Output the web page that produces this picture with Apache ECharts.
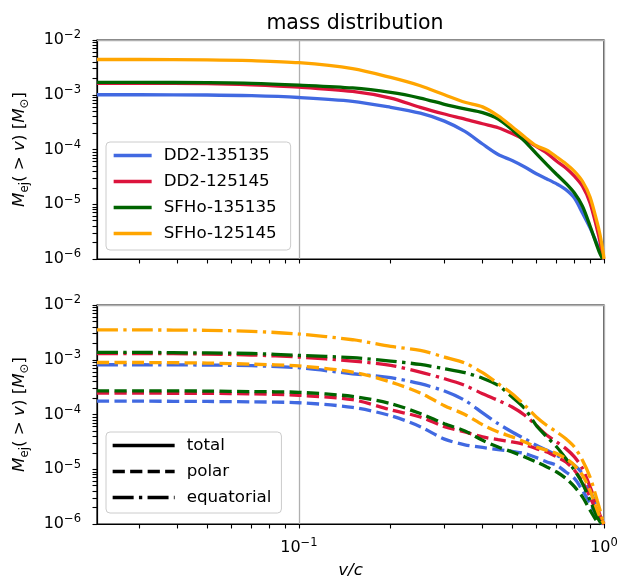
<!DOCTYPE html>
<html>
<head>
<meta charset="utf-8">
<script src="https://cdn.jsdelivr.net/npm/echarts@6.0.0/dist/echarts.min.js"></script>
<style>
  html, body { margin: 0; padding: 0; background: #fff; }
  #massChart { width: 620px; height: 583px; }
</style>
</head>
<body>
<div id="massChart"></div>
<script>
// v/c sample points
var vel = [0.0218, 0.03, 0.05, 0.07, 0.1, 0.15, 0.2, 0.25, 0.3, 0.35, 0.4, 0.45, 0.5,
           0.55, 0.6, 0.65, 0.7, 0.75, 0.8, 0.85, 0.9, 0.95, 0.97, 0.99, 1.0];

var models = ['DD2-135135', 'DD2-125145', 'SFHo-135135', 'SFHo-125145'];
var modelColors = ['#4169e1', '#dc143c', '#006400', '#ffa500'];
var styleNames = ['total', 'polar', 'equatorial'];

// total M_ej(>v) [Msun]
var totDD2_135135 = [1.0e-3, 1.0e-3, 9.9e-4, 9.6e-4, 8.9e-4, 7.6e-4, 5.9e-4, 4.6e-4, 3.3e-4, 2.14e-4, 1.26e-4, 8.1e-5, 6.3e-5,
                     4.8e-5, 3.6e-5, 2.9e-5, 2.35e-5, 1.85e-5, 1.3e-5, 6.9e-6, 3.7e-6, 1.85e-6, 1.4e-6, 1.05e-6, 1.0e-6];
var totDD2_125145 = [1.62e-3, 1.62e-3, 1.6e-3, 1.52e-3, 1.38e-3, 1.15e-3, 8.7e-4, 5.9e-4, 4.45e-4, 3.6e-4, 2.95e-4, 2.5e-4, 1.95e-4,
                     1.5e-4, 1.14e-4, 8.6e-5, 6.1e-5, 4.6e-5, 3.25e-5, 2.13e-5, 1.06e-5, 3.45e-6, 2.1e-6, 1.1e-6, 1.0e-6];
var totSFHo_135135 = [1.68e-3, 1.68e-3, 1.66e-3, 1.62e-3, 1.5e-3, 1.33e-3, 1.1e-3, 8.7e-4, 6.7e-4, 5.5e-4, 4.7e-4, 3.6e-4, 2.3e-4,
                      1.41e-4, 8.4e-5, 5.3e-5, 3.5e-5, 2.4e-5, 1.6e-5, 9.2e-6, 4.0e-6, 1.7e-6, 1.25e-6, 1.0e-6, null];
var totSFHo_125145 = [4.4e-3, 4.4e-3, 4.35e-3, 4.2e-3, 3.85e-3, 3.0e-3, 2.07e-3, 1.46e-3, 1.0e-3, 7.3e-4, 6.0e-4, 4.1e-4, 2.6e-4,
                      1.69e-4, 1.17e-4, 9.7e-5, 7.3e-5, 5.5e-5, 4.0e-5, 2.63e-5, 1.36e-5, 4.6e-6, 2.8e-6, 1.5e-6, 1.0e-6];

// polar M_ej(>v)
var polDD2_135135 = [1.75e-4, 1.75e-4, 1.73e-4, 1.7e-4, 1.64e-4, 1.35e-4, 9.5e-5, 6.0e-5, 3.55e-5, 2.8e-5, 2.5e-5, 2.29e-5, 2.13e-5,
                     1.93e-5, 1.63e-5, 1.36e-5, 1.18e-5, 8.9e-6, 6.8e-6, 4.1e-6, 2.37e-6, 1.35e-6, 1.1e-6, 1.0e-6, null];
var polDD2_125145 = [2.45e-4, 2.45e-4, 2.43e-4, 2.38e-4, 2.24e-4, 1.86e-4, 1.22e-4, 9.0e-5, 6.0e-5, 4.8e-5, 3.9e-5, 3.47e-5, 3.15e-5,
                     2.82e-5, 2.38e-5, 2.07e-5, 1.68e-5, 1.36e-5, 9.6e-6, 5.9e-6, 3.13e-6, 1.55e-6, 1.26e-6, 1.05e-6, 1.0e-6];
var polSFHo_135135 = [2.7e-4, 2.7e-4, 2.68e-4, 2.62e-4, 2.54e-4, 2.14e-4, 1.58e-4, 1.04e-4, 6.8e-5, 5.0e-5, 3.38e-5, 2.55e-5, 2.07e-5,
                      1.68e-5, 1.36e-5, 1.1e-5, 8.9e-6, 6.8e-6, 4.8e-6, 3.13e-6, 1.79e-6, 1.1e-6, 1.0e-6, null, null];
var polSFHo_125145 = [8.9e-4, 8.9e-4, 8.7e-4, 8.3e-4, 7.7e-4, 5.96e-4, 3.92e-4, 2.47e-4, 1.45e-4, 1.0e-4, 6.5e-5, 4.8e-5, 3.9e-5,
                      3.15e-5, 2.55e-5, 2.22e-5, 1.93e-5, 1.57e-5, 1.18e-5, 7.8e-6, 4.1e-6, 1.79e-6, 1.35e-6, 1.1e-6, 1.0e-6];

// equatorial M_ej(>v)
var equDD2_135135 = [8.1e-4, 8.1e-4, 8.0e-4, 7.8e-4, 7.15e-4, 5.55e-4, 4.7e-4, 3.65e-4, 2.68e-4, 1.81e-4, 1.07e-4, 6.8e-5, 4.8e-5,
                     3.6e-5, 2.74e-5, 2.22e-5, 1.8e-5, 1.46e-5, 1.18e-5, 8.3e-6, 4.1e-6, 2.06e-6, 1.45e-6, 1.05e-6, 1.0e-6];
var equDD2_125145 = [1.3e-3, 1.3e-3, 1.27e-3, 1.22e-3, 1.12e-3, 9.45e-4, 7.9e-4, 5.96e-4, 4.5e-4, 3.4e-4, 2.4e-4, 1.81e-4, 1.37e-4,
                     9.7e-5, 6.3e-5, 4.17e-5, 3.15e-5, 2.38e-5, 1.68e-5, 1.03e-5, 4.8e-6, 2.06e-6, 1.45e-6, 1.1e-6, 1.0e-6];
var equSFHo_135135 = [1.36e-3, 1.36e-3, 1.33e-3, 1.3e-3, 1.2e-3, 1.09e-3, 9.45e-4, 8.2e-4, 6.85e-4, 5.8e-4, 4.6e-4, 3.4e-4, 2.09e-4,
                      1.28e-4, 6.3e-5, 3.9e-5, 2.55e-5, 1.57e-5, 9.6e-6, 5.5e-6, 2.7e-6, 1.35e-6, 1.1e-6, 1.0e-6, null];
var equSFHo_125145 = [3.5e-3, 3.5e-3, 3.45e-3, 3.3e-3, 2.95e-3, 2.32e-3, 1.75e-3, 1.48e-3, 1.12e-3, 8.7e-4, 5.8e-4, 3.65e-4, 2.4e-4,
                      1.47e-4, 9.0e-5, 6.3e-5, 4.8e-5, 3.6e-5, 2.55e-5, 1.46e-5, 7.2e-6, 2.7e-6, 1.8e-6, 1.17e-6, 1.0e-6];

var totals = [totDD2_135135, totDD2_125145, totSFHo_135135, totSFHo_125145];
var polars = [polDD2_135135, polDD2_125145, polSFHo_135135, polSFHo_125145];
var equats = [equDD2_135135, equDD2_125145, equSFHo_135135, equSFHo_125145];

var xMin = 0.0218, xMax = 1;
var yMin = 1e-6, yMax = 1e-2;
var xMajor = [0.1, 1];
var yMajor = [1e-6, 1e-5, 1e-4, 1e-3, 1e-2];

var font = 'DejaVu Sans';
var lw = 3.3;
var dashed = [12.2, 5.3];
var dashDot = [21, 5.3, 3.3, 5.3];

function pairs(ys) {
  var out = [];
  for (var i = 0; i < vel.length; i++) {
    if (ys[i] != null) out.push([vel[i], ys[i]]);
  }
  return out;
}

// 2..9 x 10^e tick positions
function minorTicks(lo, hi, from) {
  var out = [];
  for (var e = lo; e < hi; e++) {
    for (var k = 2; k <= 9; k++) {
      var v = k * Math.pow(10, e);
      if (v > from) out.push(v);
    }
  }
  return out;
}
var minorX = minorTicks(-2, 0, xMin);
var minorY = minorTicks(-6, -2, 0);

function powLabel(v) {
  var e = Math.round(Math.log10(v));
  if (Math.abs(Math.log10(v) - e) > 1e-6) return '';
  var s = e < 0 ? '\u2212' + (-e) : '' + e;
  return '{b|10}{s|' + s + '}';
}

var supRich = {
  b: { fontFamily: font, fontSize: 16, color: '#000', lineHeight: 21, verticalAlign: 'middle' },
  s: { fontFamily: font, fontSize: 11.5, color: '#000', lineHeight: 8, verticalAlign: 'top' }
};
var nameRich = {
  i: { fontFamily: font, fontSize: 16.7, fontStyle: 'italic', color: '#000', lineHeight: 22, verticalAlign: 'middle' },
  n: { fontFamily: font, fontSize: 16.7, color: '#000', lineHeight: 22, verticalAlign: 'middle' },
  sub: { fontFamily: font, fontSize: 11.7, color: '#000', lineHeight: 12, verticalAlign: 'bottom' }
};
var yName = '{i|M}{sub|ej}{n|( > }{i|v}{n|) [}{i|M}{sub|\u2299}{n|]}';

// ticks at decades and at 2..9 per decade; the grid lines come from markLine below
function mainX(g, labels) {
  return {
    type: 'log', logBase: 10, gridIndex: g, position: 'bottom', min: xMin, max: xMax,
    name: labels ? 'v/c' : '', nameLocation: 'middle', nameGap: 38,
    nameTextStyle: { fontFamily: font, fontSize: 16.7, fontStyle: 'italic', color: '#000' },
    axisLine: { show: true, onZero: false, lineStyle: { color: '#000', width: 1.2 } },
    axisTick: { show: true, inside: false, length: 4.5, customValues: xMajor.concat(minorX),
                lineStyle: { color: '#000', width: 1.1 } },
    axisLabel: { show: labels, customValues: xMajor, margin: 13, formatter: powLabel, rich: supRich,
                 showMinLabel: true, showMaxLabel: true },
    splitLine: { show: false },
    minorTick: { show: false }, minorSplitLine: { show: false }
  };
}
function mainY(g) {
  return {
    type: 'log', logBase: 10, gridIndex: g, position: 'left', min: yMin, max: yMax,
    name: yName, nameLocation: 'middle', nameGap: 66,
    nameTextStyle: { rich: nameRich },
    axisLine: { show: true, onZero: false, lineStyle: { color: '#000', width: 1.2 } },
    axisTick: { show: true, inside: false, length: 4.5, customValues: yMajor.concat(minorY),
                lineStyle: { color: '#000', width: 1.1 } },
    axisLabel: { show: true, customValues: yMajor, margin: 16, formatter: powLabel, rich: supRich,
                 showMinLabel: true, showMaxLabel: true },
    splitLine: { show: false },
    minorTick: { show: false }, minorSplitLine: { show: false }
  };
}

// grey grid lines at the major ticks only
function gridLines() {
  var data = [];
  xMajor.forEach(function (v) { data.push({ xAxis: v }); });
  yMajor.forEach(function (v) { data.push({ yAxis: v }); });
  return {
    silent: true, z: 1, symbol: ['none', 'none'], label: { show: false },
    lineStyle: { color: '#b0b0b0', width: 1.3, type: 'solid' },
    emphasis: { disabled: true },
    data: data
  };
}

var series = [];
for (var i = 0; i < models.length; i++) {
  series.push({
    type: 'line', name: models[i], xAxisIndex: 0, yAxisIndex: 0, z: 3,
    data: pairs(totals[i]), symbol: 'none', smooth: 0.3,
    lineStyle: { color: modelColors[i], width: lw, type: 'solid' },
    itemStyle: { color: modelColors[i] },
    markLine: i === 0 ? gridLines() : undefined
  });
}
for (var j = 0; j < models.length; j++) {
  series.push({
    type: 'line', name: models[j] + ' polar', xAxisIndex: 1, yAxisIndex: 1, z: 3,
    data: pairs(polars[j]), symbol: 'none', smooth: 0.3,
    lineStyle: { color: modelColors[j], width: lw, type: dashed },
    itemStyle: { color: modelColors[j] },
    markLine: j === 0 ? gridLines() : undefined
  });
  series.push({
    type: 'line', name: models[j] + ' equatorial', xAxisIndex: 1, yAxisIndex: 1, z: 3,
    data: pairs(equats[j]), symbol: 'none', smooth: 0.3,
    lineStyle: { color: modelColors[j], width: lw, type: dashDot },
    itemStyle: { color: modelColors[j] }
  });
}
// line-style key for the lower legend (empty series)
var keyTypes = ['solid', dashed, dashDot];
for (var k = 0; k < styleNames.length; k++) {
  series.push({
    type: 'line', name: styleNames[k], xAxisIndex: 1, yAxisIndex: 1, data: [], symbol: 'none',
    lineStyle: { color: '#000', width: lw, type: keyTypes[k] },
    itemStyle: { color: '#000' }
  });
}

var legendBase = {
  orient: 'vertical', left: 106, itemHeight: 17, itemGap: 9,
  backgroundColor: 'rgba(255,255,255,0.8)', borderColor: '#cccccc', borderWidth: 1, borderRadius: 4,
  textStyle: { fontFamily: font, fontSize: 16.7, color: '#000', padding: [0, 0, 0, 7] },
  itemStyle: { opacity: 0 },
  lineStyle: { width: lw },
  selectedMode: false
};

var option = {
  animation: false,
  backgroundColor: '#fff',
  title: {
    text: 'mass distribution', left: 350, top: 8, textAlign: 'center',
    textStyle: { fontFamily: font, fontSize: 20.5, fontWeight: 'normal', color: '#000' }
  },
  legend: [
    Object.assign({}, legendBase, { data: models, top: 142, itemWidth: 38, padding: [5, 14, 8, 6] }),
    Object.assign({}, legendBase, { data: styleNames, top: 432, itemWidth: 62, padding: [5, 10, 7, 5] })
  ],
  grid: [
    { left: 97, top: 40, width: 507, height: 219, show: true, borderColor: '#000', borderWidth: 1.2,
      backgroundColor: 'transparent', containLabel: false, outerBoundsMode: 'none' },
    { left: 97, top: 305, width: 507, height: 219, show: true, borderColor: '#000', borderWidth: 1.2,
      backgroundColor: 'transparent', containLabel: false, outerBoundsMode: 'none' }
  ],
  xAxis: [mainX(0, false), mainX(1, true)],
  yAxis: [mainY(0), mainY(1)],
  series: series
};

var massChart = echarts.init(document.getElementById('massChart'), null, { renderer: 'canvas' });
massChart.setOption(option);
</script>
</body>
</html>
